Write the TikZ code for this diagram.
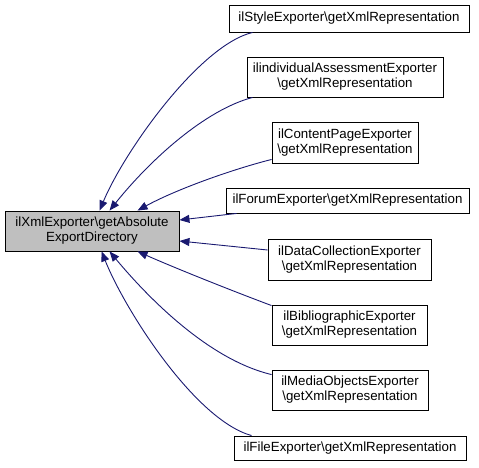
\documentclass[tikz,border=0pt]{standalone}
\usepackage{fontspec}
\setmainfont{Liberation Sans}
\usetikzlibrary{arrows.meta,calc}
\definecolor{edgeblue}{HTML}{191970}
\definecolor{maingray}{HTML}{BFBFBF}
\tikzset{
  box/.style={draw=black, line width=0.9pt, fill=white, align=center, inner sep=0pt,
              font=\fontsize{13.3}{15}\selectfont},
  mainbox/.style={box, fill=maingray},
  edge/.style={draw=edgeblue, line width=0.9pt, {Triangle[length=10pt,width=8pt]}-}
}
\begin{document}
\begin{tikzpicture}[x=1pt,y=-1pt]
\useasboundingbox (0,0) rectangle (479,468);
\node[mainbox, minimum width=174pt, minimum height=40pt] (main) at (92,231) {ilXmlExporter\textbackslash getAbsolute\\ExportDirectory};
\node[box, minimum width=240pt, minimum height=27pt] (s1) at (349,18.5) {ilStyleExporter\textbackslash getXmlRepresentation};
\node[box, minimum width=196pt, minimum height=40pt] (s2) at (345,77) {ilindividualAssessmentExporter\\\textbackslash getXmlRepresentation};
\node[box, minimum width=146pt, minimum height=41pt] (s3) at (345,142.5) {ilContentPageExporter\\\textbackslash getXmlRepresentation};
\node[box, minimum width=243pt, minimum height=25pt] (s4) at (347.5,200.5) {ilForumExporter\textbackslash getXmlRepresentation};
\node[box, minimum width=163pt, minimum height=41pt] (s5) at (349.5,259.5) {ilDataCollectionExporter\\\textbackslash getXmlRepresentation};
\node[box, minimum width=155pt, minimum height=40pt] (s6) at (349.5,325) {ilBibliographicExporter\\\textbackslash getXmlRepresentation};
\node[box, minimum width=156pt, minimum height=40pt] (s7) at (350,390) {ilMediaObjectsExporter\\\textbackslash getXmlRepresentation};
\node[box, minimum width=232pt, minimum height=24pt] (s8) at (350,448) {ilFileExporter\textbackslash getXmlRepresentation};

\draw[edge] ($(main.north west)+(95,0)$) .. controls (125,150) and (200,45) .. ($(s1.south west)+(24,0)$);
\draw[edge] ($(main.north west)+(105,0)$) .. controls (150,160) and (205,110) .. ($(s2.south west)+(6,0)$);
\draw[edge] ($(main.north west)+(133,0)$) .. controls (175,190) and (230,170) .. ($(s3.south west)+(0,-4)$);
\draw[edge] ($(main.east)+(0,-11)$) -- ($(s4.south west)+(11,0)$);
\draw[edge] ($(main.east)+(0,10)$) -- ($(s5.west)+(0,-9.5)$);
\draw[edge] ($(main.south west)+(133,0)$) .. controls (175,268) and (230,290) .. ($(s6.north west)+(0,1)$);
\draw[edge] ($(main.south west)+(105,0)$) .. controls (150,300) and (210,360) .. ($(s7.north west)+(0,5)$);
\draw[edge] ($(main.south west)+(97,0)$) .. controls (125,310) and (195,420) .. ($(s8.north west)+(18,0)$);
\end{tikzpicture}
\end{document}
